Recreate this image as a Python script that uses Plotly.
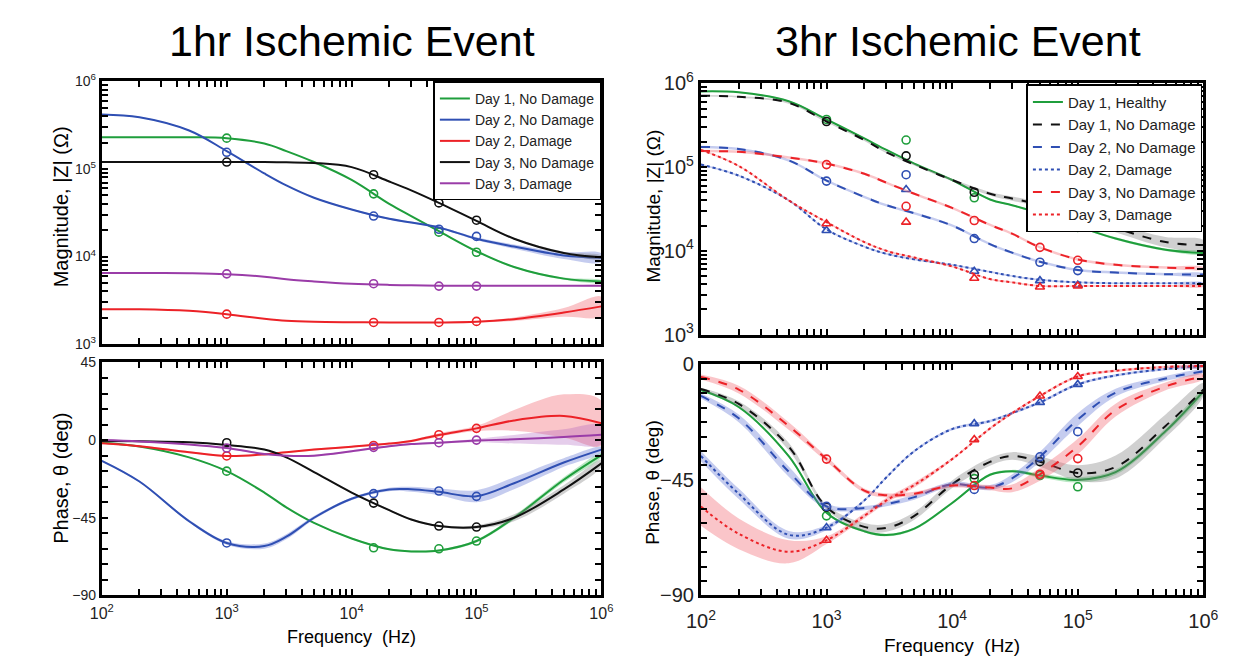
import plotly.graph_objects as go

# ---------------- data ----------------
FREQ = [1e2, 2e2, 5e2, 1e3, 2e3, 3e3, 5e3, 1e4, 2e4, 3e4, 5e4, 1e5, 2e5, 5e5, 1e6]
MK_F_L = [1e3, 1.5e4, 5e4, 1e5]
MK_F_R_MAG = [1e3, 4.3e3, 1.5e4, 5e4, 1e5]
MK_F_R_PH = [1e3, 1.5e4, 5e4, 1e5]

X_TICKS = [1e2, 1e3, 1e4, 1e5, 1e6]
X_TICKTEXT = ["10<sup>2</sup>", "10<sup>3</sup>", "10<sup>4</sup>", "10<sup>5</sup>", "10<sup>6</sup>"]
MAG_TICKS = [1e3, 1e4, 1e5, 1e6]
MAG_TICKTEXT = ["10<sup>3</sup>", "10<sup>4</sup>", "10<sup>5</sup>", "10<sup>6</sup>"]
PH_L_TICKS = [-90, -45, 0, 45]
PH_L_TICKTEXT = ["\u221290", "\u221245", "0", "45"]
PH_R_TICKS = [-90, -45, 0]
PH_R_TICKTEXT = ["\u221290", "\u221245", "0"]
X_MINOR = [m * 10 ** e for e in range(2, 6) for m in range(2, 10)]
MAG_MINOR = [m * 10 ** e for e in range(3, 6) for m in range(2, 10)]
PH_L_MINOR = [-81, -72, -63, -54, -36, -27, -18, -9, 9, 18, 27, 36]
PH_R_MINOR = [-84.375, -78.75, -73.125, -67.5, -61.875, -56.25, -50.625,
              -39.375, -33.75, -28.125, -22.5, -16.875, -11.25, -5.625]

L_NAMES = ["Day 1, No Damage", "Day 2, No Damage", "Day 2, Damage", "Day 3, No Damage", "Day 3, Damage"]
R_NAMES = ["Day 1, Healthy", "Day 1, No Damage", "Day 2, No Damage", "Day 2, Damage",
           "Day 3, No Damage", "Day 3, Damage"]

# 1hr magnitude (ohm)
L_MAG_D1ND = [2.3e5, 2.3e5, 2.3e5, 2.25e5, 1.95e5, 1.6e5, 1.2e5, 7.5e4, 4.0e4, 2.9e4, 1.95e4, 1.15e4, 7.6e3, 5.6e3, 5.2e3]
L_MAG_D2ND = [4.2e5, 3.9e5, 2.75e5, 1.6e5, 8.9e4, 6.5e4, 4.7e4, 3.45e4, 2.7e4, 2.45e4, 2.15e4, 1.6e4, 1.3e4, 1.03e4, 9.7e3]
L_MAG_D2D = [2.5e3, 2.5e3, 2.4e3, 2.2e3, 1.95e3, 1.85e3, 1.8e3, 1.78e3, 1.77e3, 1.77e3, 1.77e3, 1.8e3, 1.93e3, 2.3e3, 2.7e3]
L_MAG_D3ND = [1.2e5, 1.2e5, 1.2e5, 1.2e5, 1.2e5, 1.19e5, 1.17e5, 1.05e5, 7.2e4, 5.7e4, 4.1e4, 2.55e4, 1.6e4, 1.1e4, 9.8e3]
L_MAG_D3D = [6.5e3, 6.5e3, 6.45e3, 6.3e3, 5.9e3, 5.5e3, 5.2e3, 4.9e3, 4.75e3, 4.7e3, 4.65e3, 4.65e3, 4.65e3, 4.65e3, 4.65e3]
# band half-widths, decades
L_MAG_D1ND_SPR = [0.003, 0.003, 0.003, 0.003, 0.003, 0.003, 0.003, 0.004, 0.005, 0.005, 0.006, 0.008, 0.01, 0.012, 0.012]
L_MAG_D2ND_SPR = [0.005, 0.005, 0.005, 0.005, 0.005, 0.005, 0.005, 0.008, 0.01, 0.01, 0.012, 0.015, 0.025, 0.04, 0.05]
L_MAG_D2D_SPR = [0.003, 0.003, 0.003, 0.003, 0.003, 0.003, 0.003, 0.003, 0.003, 0.003, 0.003, 0.006, 0.02, 0.05, 0.11]
L_MAG_D3ND_SPR = [0.003, 0.003, 0.003, 0.003, 0.003, 0.003, 0.003, 0.003, 0.004, 0.004, 0.005, 0.006, 0.01, 0.015, 0.02]
L_MAG_D3D_SPR = [0.003] * 15

L_MK_MAG_D1ND = [2.25e5, 5.2e4, 1.9e4, 1.12e4]
L_MK_MAG_D2ND = [1.55e5, 2.9e4, 2.05e4, 1.7e4]
L_MK_MAG_D2D = [2.2e3, 1.77e3, 1.77e3, 1.82e3]
L_MK_MAG_D3ND = [1.2e5, 8.6e4, 4.1e4, 2.6e4]
L_MK_MAG_D3D = [6.35e3, 4.9e3, 4.6e3, 4.6e3]

# 1hr phase (deg)
L_PH_D1ND = [-1.5, -3.7, -10, -18, -30.4, -39, -48, -57, -63.3, -64.5, -64, -58.5, -45, -23, -8.7]
L_PH_D2ND = [-12, -24, -47, -59.6, -61.4, -56, -45, -34, -28.6, -28.5, -30, -32.5, -25, -13, -5.5]
L_PH_D2D = [-1.8, -3.5, -7, -9.2, -8.3, -7, -5.5, -3.8, -2, -0.5, 3, 6.8, 11.4, 14, 9.8]
L_PH_D3ND = [-0.5, -0.7, -1.2, -2.8, -5.5, -10, -18.5, -30.4, -40.6, -46, -49.8, -50.4, -45, -28.6, -13.5]
L_PH_D3D = [0, -0.8, -2.5, -4.6, -8, -9, -9, -6.5, -3.5, -2.3, -1.5, -0.3, 0.5, 1.8, 3.1]
L_PH_D1ND_SPR = [0.3, 0.3, 0.3, 0.3, 0.3, 0.3, 0.4, 0.4, 0.5, 0.5, 0.6, 0.8, 1.2, 1.5, 1.2]
L_PH_D2ND_SPR = [0.5, 0.5, 0.8, 1, 1.5, 1.5, 1, 0.8, 1, 1.5, 2, 3.5, 3.5, 2.5, 1.5]
L_PH_D2D_SPR = [0.3, 0.3, 0.5, 0.5, 0.5, 0.5, 0.5, 0.5, 0.5, 0.7, 1, 1.5, 6, 12.5, 13]
L_PH_D3ND_SPR = [0.3, 0.3, 0.3, 0.3, 0.3, 0.3, 0.3, 0.4, 0.5, 0.5, 0.6, 1, 2, 2.5, 2]
L_PH_D3D_SPR = [0.3, 0.3, 0.3, 0.4, 0.5, 0.5, 0.5, 0.5, 0.5, 0.5, 0.6, 1, 2.5, 4.5, 5.5]

L_MK_PH_D1ND = [-18, -62.4, -63, -58.5]
L_MK_PH_D2ND = [-59.6, -31, -29.5, -32.6]
L_MK_PH_D2D = [-9.2, -3.1, 3.1, 6.8]
L_MK_PH_D3ND = [-1.5, -36.5, -49.8, -50.4]
L_MK_PH_D3D = [-4.6, -4.2, -1.5, 0]

# 3hr magnitude (ohm)
R_MAG_D1H = [8.0e5, 7.8e5, 6.1e5, 3.7e5, 2.2e5, 1.6e5, 1.1e5, 7e4, 4.1e4, 3.5e4, 2.8e4, 1.96e4, 1.4e4, 1.03e4, 9.4e3]
R_MAG_D1ND = [7.1e5, 6.9e5, 5.85e5, 3.5e5, 2.1e5, 1.5e5, 1.07e5, 7e4, 4.8e4, 4.2e4, 3.55e4, 2.6e4, 1.87e4, 1.27e4, 1.17e4]
R_MAG_D2ND = [1.74e5, 1.64e5, 1.2e5, 6.9e4, 4.4e4, 3.5e4, 2.8e4, 2.0e4, 1.2e4, 9.5e3, 7.4e3, 5.9e3, 5.5e3, 5.25e3, 5.2e3]
R_MAG_D2D = [1.07e5, 7.9e4, 4e4, 1.8e4, 1.12e4, 9.2e3, 7.9e3, 6.8e3, 5.6e3, 5e3, 4.5e3, 4.2e3, 4.1e3, 4.1e3, 4.1e3]
R_MAG_D3ND = [1.55e5, 1.52e5, 1.3e5, 1.1e5, 8.3e4, 6.5e4, 4.8e4, 3.25e4, 2.04e4, 1.6e4, 1.1e4, 7.9e3, 6.8e3, 6.3e3, 6.2e3]
R_MAG_D3D = [1.6e5, 1.03e5, 4e4, 2.2e4, 1.27e4, 1e4, 8.3e3, 6.5e3, 4.6e3, 4.2e3, 3.8e3, 3.8e3, 3.8e3, 3.8e3, 3.8e3]
R_MAG_D1H_SPR = [0.008, 0.008, 0.008, 0.008, 0.008, 0.008, 0.008, 0.008, 0.01, 0.01, 0.012, 0.012, 0.015, 0.015, 0.015]
R_MAG_D1ND_SPR = [0.01, 0.01, 0.01, 0.01, 0.01, 0.01, 0.01, 0.015, 0.02, 0.025, 0.03, 0.04, 0.05, 0.06, 0.06]
R_MAG_D2ND_SPR = [0.015] * 15
R_MAG_D2D_SPR = [0.01] * 15
R_MAG_D3ND_SPR = [0.015] * 15
R_MAG_D3D_SPR = [0.01] * 15

R_MK_MAG_D1H = [3.7e5, 2.1e5, 4.3e4, 2.7e4, 1.9e4]
R_MK_MAG_D1ND = [3.5e5, 1.36e5, 5e4, 3.5e4, 2.6e4]
R_MK_MAG_D2ND = [6.8e4, 8.1e4, 1.4e4, 7.3e3, 5.8e3]
R_MK_MAG_D2D = [1.75e4, 5.4e4, 5.7e3, 4.4e3, 3.9e3]
R_MK_MAG_D3ND = [1.07e5, 3.4e4, 2.3e4, 1.1e4, 7.7e3]
R_MK_MAG_D3D = [2.1e4, 2.2e4, 4.7e3, 3.7e3, 3.8e3]

# 3hr phase (deg)
R_PH_D1H = [-10, -16.6, -35.7, -57.8, -65, -66.5, -64, -54, -43, -41.6, -43.3, -45, -42, -26, -10.5]
R_PH_D1ND = [-9.6, -15.4, -32, -55.6, -63.3, -63.7, -59, -46.7, -38, -35.7, -37.9, -42.3, -40, -24, -9.8]
R_PH_D2ND = [-12.3, -21, -41.8, -55.3, -56, -54.5, -51.7, -46.7, -48, -44.4, -36, -21.5, -11, -5.5, -2.7]
R_PH_D2D = [-35.7, -50.4, -66.4, -63.6, -53, -44, -33.8, -25.2, -22.1, -19, -14.8, -7.8, -4.3, -1.8, -0.6]
R_PH_D3ND = [-4.9, -9.8, -24, -36.9, -49.2, -51, -50.4, -47.2, -48, -48.3, -42.8, -32, -17.8, -8.6, -4.7]
R_PH_D3D = [-55.4, -66, -73, -68.5, -59, -53, -47, -36.9, -25, -19, -12.3, -4.7, -2.5, -1, -0.6]
R_PH_D1H_SPR = [0.5, 0.5, 0.5, 0.5, 0.5, 0.5, 0.5, 0.5, 0.5, 0.5, 0.8, 1, 1, 1, 0.8]
R_PH_D1ND_SPR = [0.5, 1, 1.5, 1, 1.5, 1.5, 1.5, 1.5, 1.5, 1.5, 2, 3, 4.5, 4.5, 2.5]
R_PH_D2ND_SPR = [1, 1.5, 2, 1, 0.8, 0.8, 1, 1, 1, 1.5, 2, 2.5, 1.5, 1, 0.5]
R_PH_D2D_SPR = [2, 2, 1.5, 1, 0.5, 0.5, 0.5, 0.5, 0.5, 0.5, 0.5, 0.5, 0.5, 0.5, 0.5]
R_PH_D3ND_SPR = [1, 1.5, 1.5, 1, 0.8, 0.8, 0.8, 0.8, 1, 1.5, 2.5, 3, 2.5, 1.5, 1]
R_PH_D3D_SPR = [7.5, 6, 4.5, 1.5, 1, 1, 1, 0.5, 0.5, 0.5, 0.5, 0.5, 0.5, 0.5, 0.5]

R_MK_PH_D1H = [-59, -44.5, -43.3, -47.7]
R_MK_PH_D1ND = [-55.6, -43, -37.9, -42.3]
R_MK_PH_D2ND = [-55.3, -48.7, -36, -26.2]
R_MK_PH_D2D = [-63.6, -23.1, -14.8, -7.8]
R_MK_PH_D3ND = [-36.9, -47.2, -42.8, -36.7]
R_MK_PH_D3D = [-68.5, -29.3, -12.3, -4.7]

# ---------------- styles ----------------
GREEN, BLUE, RED, BLACK, PURPLE = "#1f9e3c", "#2f4fb3", "#ec2227", "#111111", "#9a3ca8"
BAND = {GREEN: "rgba(60,190,90,0.35)", BLUE: "rgba(90,110,210,0.35)", RED: "rgba(240,90,100,0.35)",
        BLACK: "rgba(120,120,120,0.35)", PURPLE: "rgba(170,90,190,0.3)"}
FONT = "Liberation Sans, Arial, Helvetica, sans-serif"

fig = go.Figure()


def add_series(xa, ya, y, spr, log, color, dash, name, legend, mk_x, mk_y, symbol, showleg=True):
    if log:
        up = [v * 10 ** s for v, s in zip(y, spr)]
        lo = [v / 10 ** s for v, s in zip(y, spr)]
    else:
        up = [v + s for v, s in zip(y, spr)]
        lo = [v - s for v, s in zip(y, spr)]
    fig.add_trace(go.Scatter(x=FREQ + FREQ[::-1], y=up + lo[::-1], xaxis=xa, yaxis=ya,
                             fill="toself", fillcolor=BAND[color], line=dict(width=0, shape="spline"),
                             mode="lines", showlegend=False, hoverinfo="skip"))
    fig.add_trace(go.Scatter(x=FREQ, y=y, xaxis=xa, yaxis=ya, mode="lines", name=name,
                             line=dict(color=color, width=2, dash=dash, shape="spline", smoothing=1.0),
                             showlegend=showleg, legend=legend))
    fig.add_trace(go.Scatter(x=mk_x, y=mk_y, xaxis=xa, yaxis=ya, mode="markers", showlegend=False,
                             marker=dict(symbol=symbol, size=8, color=color, line=dict(color=color, width=1.6))))


# 1hr panels
L_SET = [
    (L_MAG_D1ND, L_MAG_D1ND_SPR, L_PH_D1ND, L_PH_D1ND_SPR, L_MK_MAG_D1ND, L_MK_PH_D1ND, GREEN),
    (L_MAG_D2ND, L_MAG_D2ND_SPR, L_PH_D2ND, L_PH_D2ND_SPR, L_MK_MAG_D2ND, L_MK_PH_D2ND, BLUE),
    (L_MAG_D2D, L_MAG_D2D_SPR, L_PH_D2D, L_PH_D2D_SPR, L_MK_MAG_D2D, L_MK_PH_D2D, RED),
    (L_MAG_D3ND, L_MAG_D3ND_SPR, L_PH_D3ND, L_PH_D3ND_SPR, L_MK_MAG_D3ND, L_MK_PH_D3ND, BLACK),
    (L_MAG_D3D, L_MAG_D3D_SPR, L_PH_D3D, L_PH_D3D_SPR, L_MK_MAG_D3D, L_MK_PH_D3D, PURPLE),
]
for name, (mg, mgs, ph, phs, mkm, mkp, col) in zip(L_NAMES, L_SET):
    add_series("x", "y", mg, mgs, True, col, "solid", name, "legend", MK_F_L, mkm, "circle-open")
    add_series("x2", "y2", ph, phs, False, col, "solid", name, "legend", MK_F_L, mkp, "circle-open", showleg=False)

# 3hr panels
R_SET = [
    (R_MAG_D1H, R_MAG_D1H_SPR, R_PH_D1H, R_PH_D1H_SPR, R_MK_MAG_D1H, R_MK_PH_D1H, GREEN, "solid", "circle-open"),
    (R_MAG_D1ND, R_MAG_D1ND_SPR, R_PH_D1ND, R_PH_D1ND_SPR, R_MK_MAG_D1ND, R_MK_PH_D1ND, BLACK, "dash", "circle-open"),
    (R_MAG_D2ND, R_MAG_D2ND_SPR, R_PH_D2ND, R_PH_D2ND_SPR, R_MK_MAG_D2ND, R_MK_PH_D2ND, BLUE, "dash", "circle-open"),
    (R_MAG_D2D, R_MAG_D2D_SPR, R_PH_D2D, R_PH_D2D_SPR, R_MK_MAG_D2D, R_MK_PH_D2D, BLUE, "dot", "triangle-up-open"),
    (R_MAG_D3ND, R_MAG_D3ND_SPR, R_PH_D3ND, R_PH_D3ND_SPR, R_MK_MAG_D3ND, R_MK_PH_D3ND, RED, "dash", "circle-open"),
    (R_MAG_D3D, R_MAG_D3D_SPR, R_PH_D3D, R_PH_D3D_SPR, R_MK_MAG_D3D, R_MK_PH_D3D, RED, "dot", "triangle-up-open"),
]
for name, (mg, mgs, ph, phs, mkm, mkp, col, dash, sym) in zip(R_NAMES, R_SET):
    add_series("x3", "y3", mg, mgs, True, col, dash, name, "legend2", MK_F_R_MAG, mkm, sym)
    add_series("x4", "y4", ph, phs, False, col, dash, name, "legend2", MK_F_R_PH, mkp, sym, showleg=False)

# ---------------- layout ----------------
W, H = 1234, 668


def px_x(a, b):
    return [a / W, b / W]


def px_y(top, bottom):
    return [1 - bottom / H, 1 - top / H]


def axis(dom, anchor, typ, rng, tv, tt, fs, minor_vals, showlabels=True, standoff=0):
    vals = list(tv) + list(minor_vals)
    txt = list(tt) + [""] * len(minor_vals)
    return dict(domain=dom, anchor=anchor, type=typ, range=rng, showgrid=False, zeroline=False,
                showline=True, linecolor="black", linewidth=3, mirror="ticks",
                ticks="inside", ticklen=6, tickwidth=2, tickcolor="black",
                tickmode="array", tickvals=vals, ticktext=txt, showticklabels=showlabels,
                ticklabelstandoff=standoff,
                tickfont=dict(family=FONT, size=fs, color="#222"))


LX = px_x(89, 601)
RX = px_x(703, 1218)
fig.update_layout(
    width=W, height=H, margin=dict(l=0, r=0, t=0, b=0),
    paper_bgcolor="white", plot_bgcolor="white", showlegend=True,
    xaxis=axis(LX, "y", "log", [2, 6], X_TICKS, X_TICKTEXT, 15, X_MINOR, showlabels=False),
    yaxis=axis(px_y(70, 343), "x", "log", [3, 6], MAG_TICKS, MAG_TICKTEXT, 14, MAG_MINOR),
    xaxis2=axis(LX, "y2", "log", [2, 6], X_TICKS, X_TICKTEXT, 16, X_MINOR, standoff=1),
    yaxis2=axis(px_y(362, 604), "x2", "linear", [-90, 45], PH_L_TICKS, PH_L_TICKTEXT, 14, PH_L_MINOR),
    xaxis3=axis(RX, "y3", "log", [2, 6], X_TICKS, X_TICKTEXT, 19, X_MINOR, showlabels=False),
    yaxis3=axis(px_y(72, 333), "x3", "log", [3, 6], MAG_TICKS, MAG_TICKTEXT, 20, MAG_MINOR),
    xaxis4=axis(RX, "y4", "log", [2, 6], X_TICKS, X_TICKTEXT, 20, X_MINOR, standoff=6),
    yaxis4=axis(px_y(364, 604), "x4", "linear", [-90, 0], PH_R_TICKS, PH_R_TICKTEXT, 20, PH_R_MINOR),
    legend=dict(x=601 / W, y=1 - 70 / H, xanchor="right", yanchor="top", bgcolor="white",
                bordercolor="black", borderwidth=1.5, font=dict(family=FONT, size=14, color="#222"),
                tracegroupgap=0, itemwidth=30),
    legend2=dict(x=1217 / W, y=1 - 73 / H, xanchor="right", yanchor="top", bgcolor="white",
                 bordercolor="black", borderwidth=1.5, font=dict(family=FONT, size=15, color="#222"),
                 tracegroupgap=0, itemwidth=30),
)

ann = [
    dict(text="1hr Ischemic Event", x=345 / W, y=1 - 28 / H, size=43, angle=0),
    dict(text="3hr Ischemic Event", x=967 / W, y=1 - 28 / H, size=43, angle=0),
    dict(text="Magnitude, |Z| (\u03a9)", x=47 / W, y=1 - 200 / H, size=20, angle=-90),
    dict(text="Phase, \u03b8 (deg)", x=47 / W, y=1 - 482 / H, size=20, angle=-90),
    dict(text="Magnitude, |Z| (\u03a9)", x=654 / W, y=1 - 200 / H, size=19, angle=-90),
    dict(text="Phase, \u03b8 (deg)", x=654 / W, y=1 - 487 / H, size=19, angle=-90),
    dict(text="Frequency  (Hz)", x=345 / W, y=1 - 647 / H, size=18, angle=0),
    dict(text="Frequency  (Hz)", x=960 / W, y=1 - 656 / H, size=19, angle=0),
]
for a in ann:
    fig.add_annotation(text=a["text"], x=a["x"], y=a["y"], xref="paper", yref="paper",
                       xanchor="center", yanchor="middle", showarrow=False, textangle=a["angle"],
                       font=dict(family=FONT, size=a["size"], color="black"))

fig.write_html("out.html", config={"displayModeBar": False},
               post_script="document.body.style.margin='0';")
